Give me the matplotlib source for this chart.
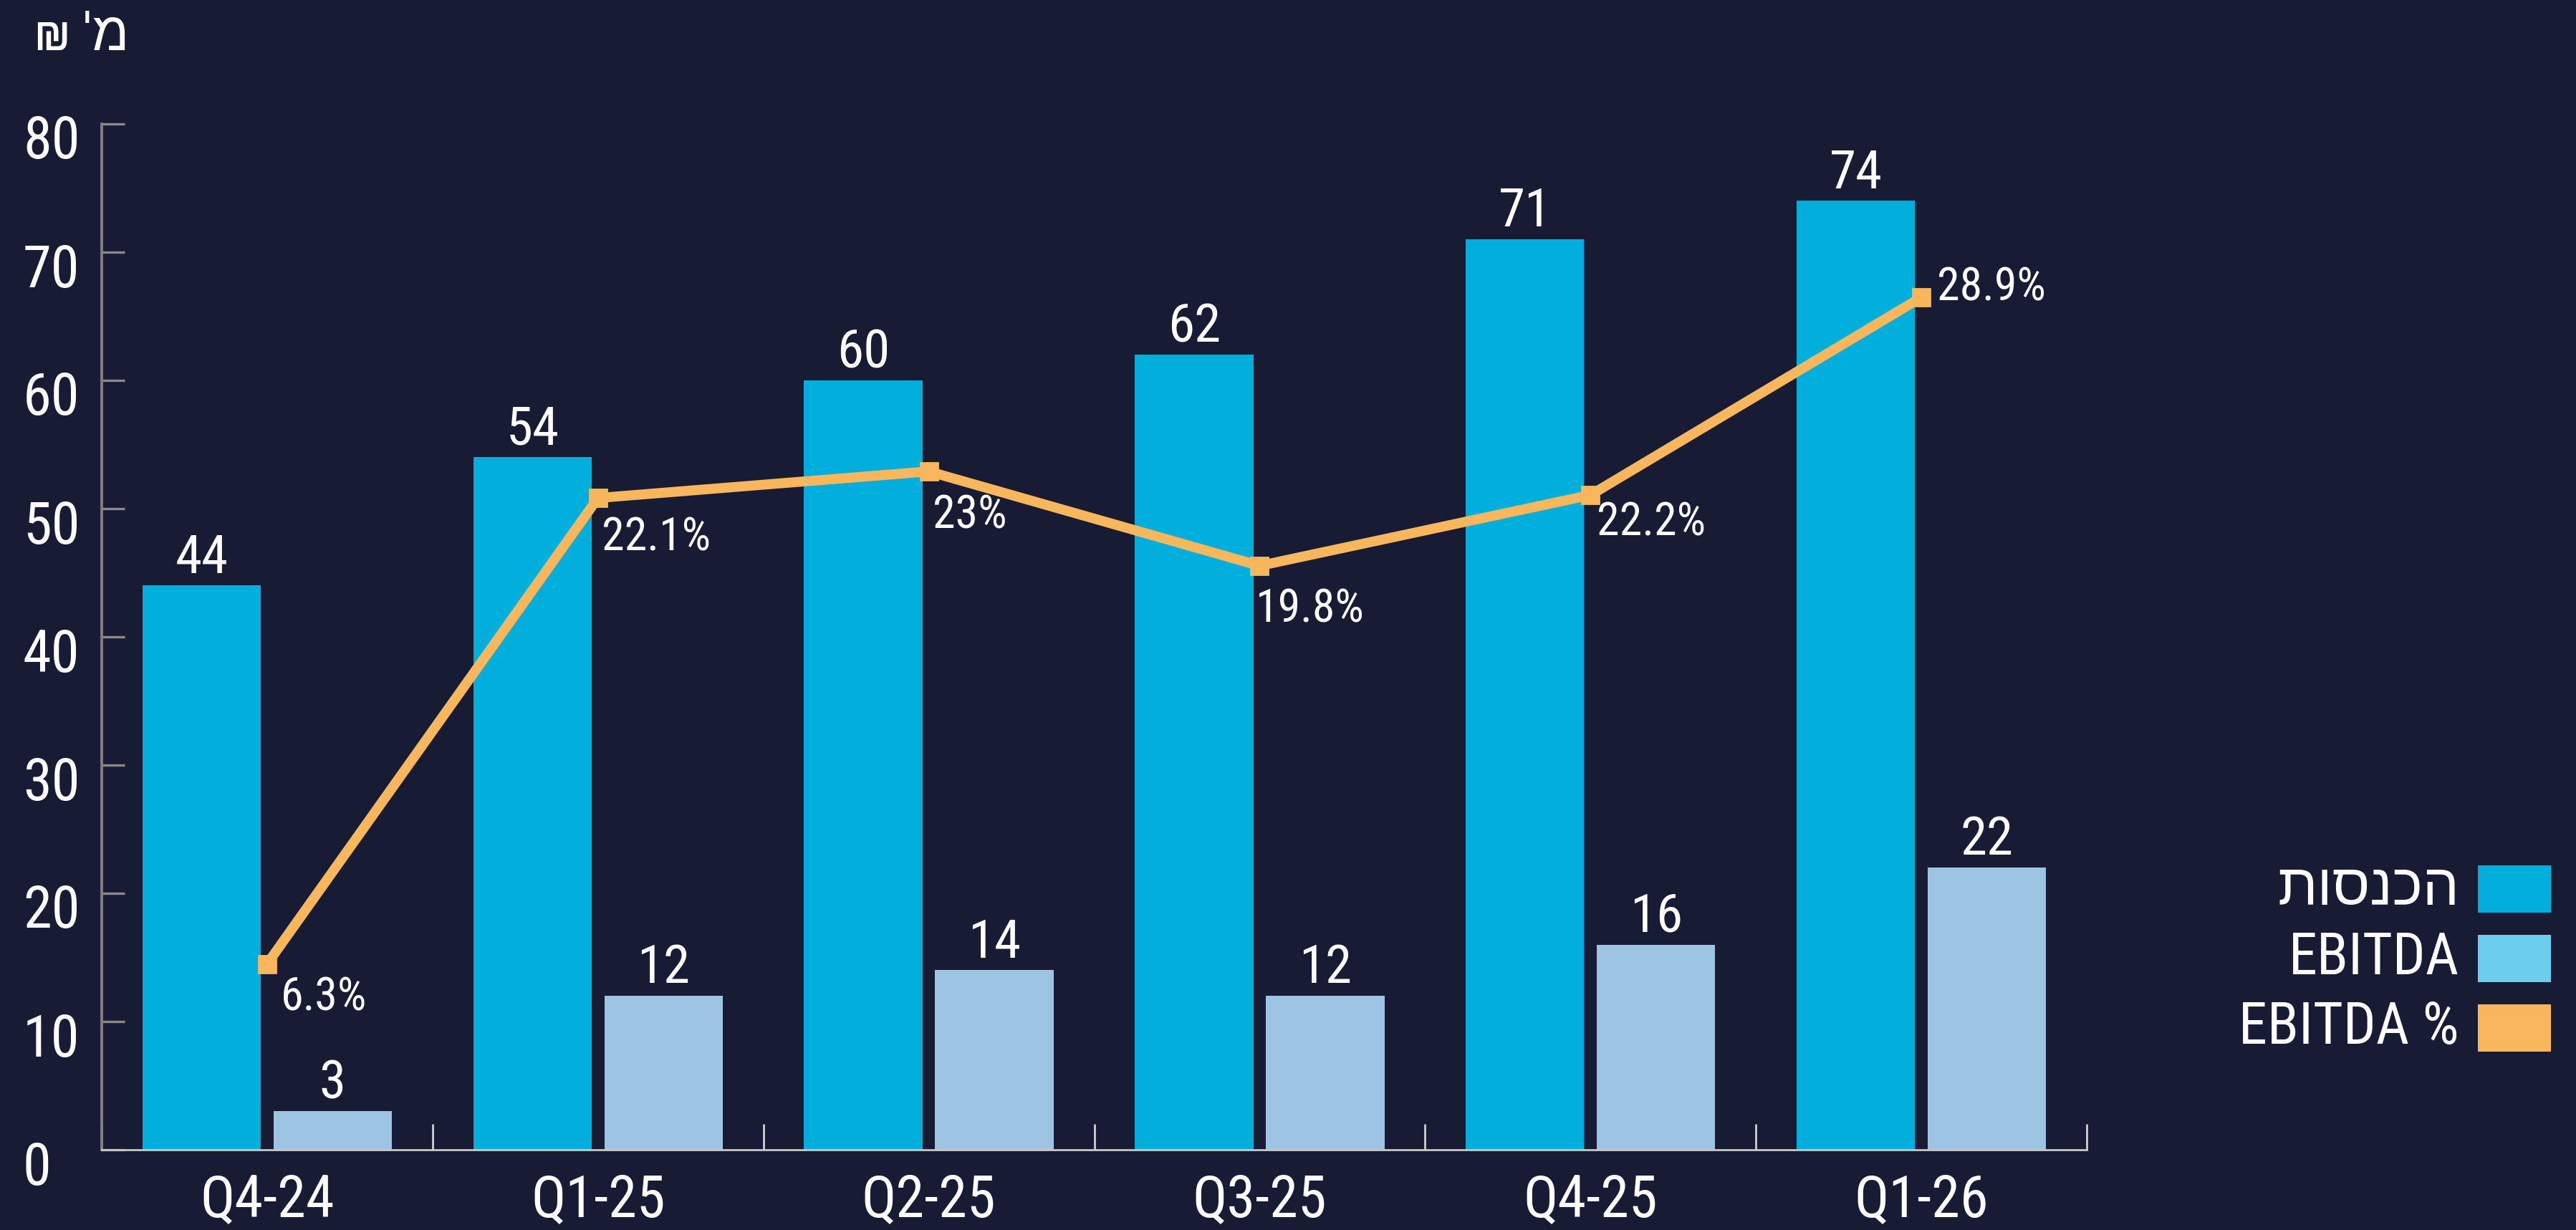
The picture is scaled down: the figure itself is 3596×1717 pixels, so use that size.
import numpy as np
import matplotlib
matplotlib.use("Agg")
import matplotlib.pyplot as plt
from matplotlib import font_manager as fm
from matplotlib.patches import Rectangle
from matplotlib.transforms import ScaledTranslation

quarters = ["Q4-24", "Q1-25", "Q2-25", "Q3-25", "Q4-25", "Q1-26"]
revenue = [44, 54, 60, 62, 71, 74]
ebitda = [3, 12, 14, 12, 16, 22]
margin = [6.3, 22.1, 23, 19.8, 22.2, 28.9]
legend_labels = ["הכנסות", "EBITDA", "EBITDA %"]
unit_label = "מ' ₪"

BG = "#181b34"
C_REV = "#02aedb"
C_EB = "#9ec4e4"
C_EB_LEG = "#6ccded"
C_LINE = "#f8b65d"

# pick a condensed face if one is installed
names = {f.name for f in fm.fontManager.ttflist}
cond = next((n for n in ["Roboto Condensed", "Liberation Sans Narrow", "Open Sans Condensed"] if n in names),
            "Liberation Sans")
plt.rcParams["font.family"] = [cond, "Liberation Sans", "DejaVu Sans"]

fig = plt.figure(figsize=(17.98, 8.585), dpi=200, facecolor=BG)
W, H = 3596, 1717
ax = fig.add_axes([142 / W, 1 - 1605 / H, (2913 - 142) / W, (1605 - 173) / H])
ax.set_facecolor(BG)

x = np.arange(len(quarters))
bw = 0.358
ax.bar(x - 0.198, revenue, bw, color=C_REV, zorder=2)
ax.bar(x + 0.198, ebitda, bw, color=C_EB, zorder=2)

for xi, v in zip(x, revenue):
    ax.annotate(str(v), (xi - 0.198, v), xytext=(0, 1), textcoords="offset points",
                ha="center", va="bottom", color="white", fontsize=27)
for xi, v in zip(x, ebitda):
    ax.annotate(str(v), (xi + 0.198, v), xytext=(0, 1), textcoords="offset points",
                ha="center", va="bottom", color="white", fontsize=27)

ax.set_xlim(-0.5, len(quarters) - 0.5)
ax.set_ylim(0, 80)
ax.set_yticks(range(0, 81, 10))
ax.set_xticks(np.arange(-0.5, len(quarters), 1.0))
ax.set_xticklabels([])
ax.set_xticks(x, minor=True)
ax.set_xticklabels(quarters, minor=True)
ax.tick_params(axis="x", which="major", direction="in", length=13, width=1.0, color="#d0d0d0")
ax.tick_params(axis="x", which="minor", length=0, pad=12, labelsize=29, labelcolor="white")
ax.tick_params(axis="y", direction="in", length=11.5, width=1.2, color="#8a8a8a",
               pad=39.6, labelsize=29, labelcolor="white")
for lbl in ax.get_yticklabels():
    lbl.set_horizontalalignment("left")
    lbl.set_transform(lbl.get_transform() + ScaledTranslation(0, -18 / 200, fig.dpi_scale_trans))

for s in ["top", "right"]:
    ax.spines[s].set_visible(False)
ax.spines["left"].set_color("#808080")
ax.spines["left"].set_linewidth(1.4)
ax.spines["bottom"].set_color("#c8c8c8")
ax.spines["bottom"].set_linewidth(1.0)

# margin line on a hidden secondary scale
ax2 = ax.twinx()
ax2.set_ylim(0, 80 / 2.3)
ax2.set_axis_off()
ax2.plot(x, margin, color=C_LINE, lw=5, marker="s", ms=8.5, zorder=3)
offsets = [(7, -17), (2, -20), (2, -22), (-2, -22), (3, -14), (8, 5)]
for xi, v, (dx, dy) in zip(x, margin, offsets):
    ax2.annotate(f"{v:g}%", (xi, v), xytext=(dx, dy), textcoords="offset points",
                 ha="left", va="center", color="white", fontsize=23)

# unit label, top left
fig.text(48 / W, 1 - 50 / H, unit_label[::-1], color="white", fontsize=27, ha="left", va="center")

# legend on the right
leg_colors = [C_REV, C_EB_LEG, C_LINE]
for i, (lab, col) in enumerate(zip(legend_labels, leg_colors)):
    cy = 1241 + i * 97
    fig.add_artist(Rectangle((3459 / W, 1 - (cy + 33) / H), 102 / W, 66 / H,
                             transform=fig.transFigure, color=col, lw=0))
    txt = lab[::-1] if lab == "הכנסות" else lab
    fig.text(3433 / W, 1 - cy / H, txt, color="white", fontsize=29, ha="right", va="center")

fig.savefig("out.png", dpi=200, facecolor=BG)
